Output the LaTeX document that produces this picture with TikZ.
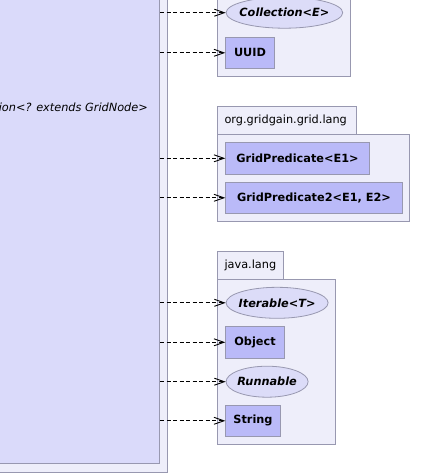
\documentclass[tikz,border=0pt]{standalone}
\usepackage{fontspec}
\setmainfont{DejaVu Sans}
\usetikzlibrary{arrows.meta, positioning, shapes.geometric}
\definecolor{pkgfill}{RGB}{238,238,250}
\definecolor{pkgline}{RGB}{152,152,176}
\definecolor{mainfill}{RGB}{218,218,250}
\definecolor{clsfill}{RGB}{186,186,248}
\definecolor{ifcfill}{RGB}{220,220,248}
\newcommand{\umlfont}{\fontsize{11.3}{13.5}\selectfont}

\begin{document}
\begin{tikzpicture}[x=1pt, y=-1pt,
		pkg/.style={draw=pkgline, fill=pkgfill, line width=1pt},
		pkglabel/.style={font=\umlfont, inner sep=0pt, anchor=west},
		cls/.style={draw=pkgline, fill=clsfill, line width=1pt, font=\umlfont\bfseries,
			minimum width=#1, minimum height=31pt, inner sep=0pt, anchor=west},
		ifc/.style={ellipse, draw=pkgline, fill=ifcfill, line width=0.8pt, font=\umlfont\bfseries\itshape,
			minimum width=#1, minimum height=31pt, inner xsep=-12pt, inner ysep=0pt, anchor=west},
		dep/.style={line width=0.9pt, dash pattern=on 4pt off 2.5pt,
			-{Straight Barb[length=10pt, width=7pt]}}]
			\useasboundingbox (0,0) rectangle (428,474);

			% Main class, inside its package
			\filldraw[pkg] (-30,-40) rectangle (167.5,472.3);
			\node[draw=pkgline, fill=mainfill, line width=1pt, inner sep=0pt,
				minimum width=190pt, minimum height=504.3pt, anchor=south east] (main) at (160,464.3) {};
			\node[font=\umlfont\itshape, inner sep=0pt, anchor=east] (mtype) at (148,107) {ion<? extends GridNode>};

			% Package (top, cut)
			\filldraw[pkg] (217.3,-30) rectangle (350.7,76.3);
			\node[ifc=116.6pt] (collection) at (225.7,12.7) {Collection<E>};
			\node[cls=48.4pt] (uuid) at (225.3,52.8) {UUID};

			% Package: org.gridgain.grid.lang
			\filldraw[pkg] (217.3,106.7) rectangle (356.3,134.7);
			\filldraw[pkg] (217.3,134.7) rectangle (409.3,221.3);
			\node[pkglabel] (langlbl) at (224.3,120.7) {org.gridgain.grid.lang};
			\node[cls=143.4pt, minimum height=32pt] (gpred) at (225.3,158.3) {GridPredicate<E1>};
			\node[cls=176.4pt] (gpredtwo) at (225.3,197.8) {GridPredicate2<E1, E2>};

			% Package: java.lang
			\filldraw[pkg] (217.3,251.3) rectangle (283.7,279.3);
			\filldraw[pkg] (217.3,279.3) rectangle (335.7,444.3);
			\node[pkglabel] (javalbl) at (224.3,265.3) {java.lang};
			\node[ifc=102pt] (iterable) at (225.7,302.8) {Iterable<T>};
			\node[cls=58.4pt, minimum height=32pt] (object) at (225.3,342.3) {Object};
			\node[ifc=82pt] (runnable) at (225.7,381.7) {Runnable};
			\node[cls=54.4pt] (string) at (225.3,420.8) {String};

			% Dependencies
			\foreach \dst in {collection, uuid, gpred, gpredtwo, iterable, object, runnable, string}
				\draw[dep] (main.east |- \dst) -- (\dst);

		\end{tikzpicture}
\end{document}
